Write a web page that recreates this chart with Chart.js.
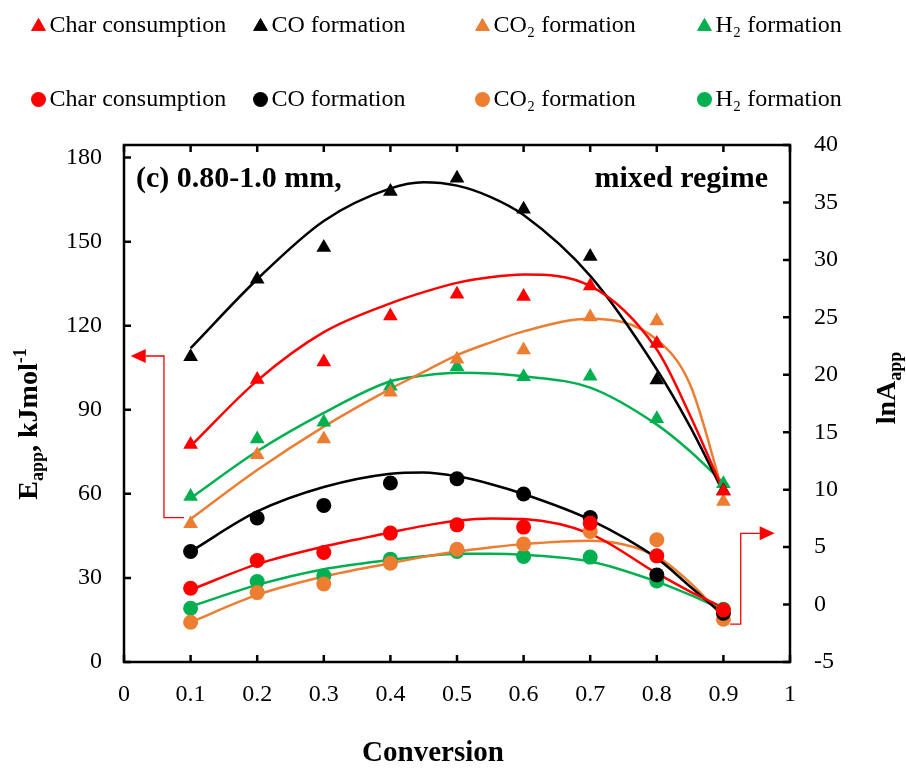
<!DOCTYPE html>
<html>
<head>
<meta charset="utf-8">
<script src="https://cdn.jsdelivr.net/npm/chart.js@4.4.0/dist/chart.umd.min.js"></script>
<style>
  html, body { margin: 0; padding: 0; background: #fff; }
  #wrap { width: 906px; height: 769px; }
</style>
</head>
<body>
<div id="wrap"><canvas id="chart" width="906" height="769"></canvas></div>
<script>
// conversion levels (x) of the measured points
const conversion = [0.1, 0.2, 0.3, 0.4, 0.5, 0.6, 0.7, 0.8, 0.9];

// apparent activation energy, kJ/mol (triangles, left axis)
const eaChar = [77.6, 100.8, 107.1, 123.5, 131.2, 130.4, 134.2, 113.7, 60.9];
const eaCO   = [108.9, 136.6, 147.9, 167.9, 172.6, 161.6, 144.7, 100.6, 61.1];
const eaCO2  = [49.3, 74.0, 79.6, 96.3, 108.0, 111.3, 123.1, 121.7, 57.3];
const eaH2   = [59.1, 79.6, 85.6, 98.4, 105.4, 101.8, 102.0, 86.8, 63.6];

// ln of pre-exponential factor (circles, right axis)
const lnChar = [1.42, 3.83, 4.53, 6.22, 6.94, 6.74, 7.09, 4.24, -0.47];
const lnCO   = [4.62, 7.53, 8.63, 10.58, 10.95, 9.62, 7.58, 2.58, -0.76];
const lnCO2  = [-1.54, 1.04, 1.80, 3.60, 4.82, 5.26, 6.36, 5.64, -1.28];
const lnH2   = [-0.32, 2.00, 2.50, 3.95, 4.62, 4.18, 4.13, 2.06, -0.41];

// fitted trend curves
const fitX        = [0.1, 0.2, 0.3, 0.4, 0.45, 0.5, 0.55, 0.6, 0.7, 0.8, 0.85, 0.9];
const fitEaChar   = [77.0, 100.4, 117.7, 128.0, 132.0, 135.3, 137.3, 138.3, 134.2, 111.5, 88.0, 61.0];
const fitEaCO     = [112.0, 136.6, 157.4, 169.0, 171.2, 170.0, 166.0, 159.5, 137.8, 104.4, 84.0, 60.5];
const fitEaCO2    = [51.0, 68.5, 84.0, 97.5, 103.5, 109.5, 114.0, 118.0, 122.5, 115.0, 99.0, 60.0];
const fitEaH2     = [58.5, 75.2, 88.9, 100.2, 102.2, 103.2, 103.0, 102.0, 97.9, 84.7, 75.2, 63.9];
const fitLnChar   = [1.28, 3.52, 5.05, 6.27, 6.85, 7.29, 7.50, 7.44, 6.16, 2.73, 1.13, -0.27];
const fitLnCO     = [4.62, 8.10, 10.23, 11.39, 11.50, 11.16, 10.50, 9.62, 7.38, 4.04, 1.57, -0.90];
const fitLnCO2    = [-1.54, 0.84, 2.44, 3.60, 4.15, 4.62, 4.97, 5.26, 5.55, 4.18, 1.91, -1.10];
const fitLnH2     = [-0.18, 1.71, 3.08, 3.89, 4.20, 4.42, 4.42, 4.33, 3.75, 2.00, 0.84, -0.47];

const seriesNames  = ['Char consumption', 'CO formation', 'CO\u2082 formation', 'H\u2082 formation'];
const seriesColors = ['#FF0000', '#000000', '#ED7D31', '#00B050'];

const eaTicks = [0, 30, 60, 90, 120, 150, 180];

// arrow annotations (data units: [x, value])
const leftArrowPath  = [[0.09, 51.5], [0.06, 51.5], [0.06, 109.2], [0.01, 109.2]];
const rightArrowPath = [[0.91, -1.7], [0.926, -1.7], [0.926, 6.2], [0.977, 6.2]];

const SERIF = "'Liberation Serif', 'Times New Roman', serif";
Chart.defaults.font.family = SERIF;
Chart.defaults.color = '#000';

function pts(xs, ys) {
    return xs.map((x, i) => ({ x: x, y: ys[i] }));
}

const eaSeries = [eaChar, eaCO, eaCO2, eaH2];
const lnSeries = [lnChar, lnCO, lnCO2, lnH2];
const fitEa = [fitEaChar, fitEaCO, fitEaCO2, fitEaH2];
const fitLn = [fitLnChar, fitLnCO, fitLnCO2, fitLnH2];

const datasets = [];
seriesNames.forEach((name, i) => {
    datasets.push({
        label: name + ' Ea',
        data: pts(conversion, eaSeries[i]),
        yAxisID: 'y',
        showLine: false,
        pointStyle: 'triangle',
        pointRadius: 8.5,
        pointBackgroundColor: seriesColors[i],
        pointBorderWidth: 0
    });
});
seriesNames.forEach((name, i) => {
    datasets.push({
        label: name + ' lnA',
        data: pts(conversion, lnSeries[i]),
        yAxisID: 'y1',
        showLine: false,
        pointStyle: 'circle',
        pointRadius: 7.5,
        pointBackgroundColor: seriesColors[i],
        pointBorderWidth: 0
    });
});
seriesNames.forEach((name, i) => {
    datasets.push({
        label: name + ' Ea fit',
        data: pts(fitX, fitEa[i]),
        yAxisID: 'y',
        showLine: true,
        cubicInterpolationMode: 'monotone',
        borderColor: seriesColors[i],
        borderWidth: 2.5,
        pointRadius: 0
    });
    datasets.push({
        label: name + ' lnA fit',
        data: pts(fitX, fitLn[i]),
        yAxisID: 'y1',
        showLine: true,
        cubicInterpolationMode: 'monotone',
        borderColor: seriesColors[i],
        borderWidth: 2.5,
        pointRadius: 0
    });
});

// text with sub/superscript pieces, centred on 0 along the baseline
function drawRich(ctx, parts) {
    let total = 0;
    parts.forEach(p => {
        ctx.font = p.font;
        p.w = ctx.measureText(p.t).width;
        total += p.w;
    });
    let x = -total / 2;
    ctx.textAlign = 'left';
    ctx.textBaseline = 'alphabetic';
    parts.forEach(p => {
        ctx.font = p.font;
        ctx.fillText(p.t, x, p.dy || 0);
        x += p.w;
    });
}

function drawArrow(ctx, path, xs, ys) {
    const p = path.map(q => [xs.getPixelForValue(q[0]), ys.getPixelForValue(q[1])]);
    const n = p.length;
    const tip = p[n - 1];
    const prev = p[n - 2];
    const dir = Math.sign(tip[0] - prev[0]);
    const headLen = 15, headHalf = 7;
    ctx.save();
    ctx.strokeStyle = '#FF0000';
    ctx.fillStyle = '#FF0000';
    ctx.lineWidth = 1.3;
    ctx.beginPath();
    ctx.moveTo(p[0][0], p[0][1]);
    for (let i = 1; i < n - 1; i++) ctx.lineTo(p[i][0], p[i][1]);
    ctx.lineTo(tip[0] - dir * headLen, tip[1]);
    ctx.stroke();
    ctx.beginPath();
    ctx.moveTo(tip[0], tip[1]);
    ctx.lineTo(tip[0] - dir * headLen, tip[1] - headHalf);
    ctx.lineTo(tip[0] - dir * headLen, tip[1] + headHalf);
    ctx.closePath();
    ctx.fill();
    ctx.restore();
}

const decorations = {
    id: 'decorations',
    afterDraw(chart) {
        const ctx = chart.ctx;
        const a = chart.chartArea;
        const xs = chart.scales.x, ys = chart.scales.y, ys1 = chart.scales.y1;
        ctx.save();

        // plot frame + inward ticks
        ctx.strokeStyle = '#000';
        ctx.lineWidth = 2.5;
        ctx.strokeRect(a.left, a.top, a.right - a.left, a.bottom - a.top);
        const tl = 7;
        ctx.beginPath();
        xs.ticks.forEach(t => {
            const px = xs.getPixelForValue(t.value);
            ctx.moveTo(px, a.bottom); ctx.lineTo(px, a.bottom - tl);
            ctx.moveTo(px, a.top); ctx.lineTo(px, a.top + tl);
        });
        ys.ticks.forEach(t => {
            const py = ys.getPixelForValue(t.value);
            ctx.moveTo(a.left, py); ctx.lineTo(a.left + tl, py);
        });
        ys1.ticks.forEach(t => {
            const py = ys1.getPixelForValue(t.value);
            ctx.moveTo(a.right, py); ctx.lineTo(a.right - tl, py);
        });
        ctx.stroke();

        // panel labels
        ctx.fillStyle = '#000';
        ctx.font = 'bold 30px ' + SERIF;
        ctx.textBaseline = 'alphabetic';
        ctx.textAlign = 'left';
        ctx.fillText('(c) 0.80-1.0 mm,', a.left + 12, 187);
        ctx.textAlign = 'right';
        ctx.fillText('mixed regime', a.right - 22, 187);

        // x title
        ctx.textAlign = 'center';
        ctx.font = 'bold 29px ' + SERIF;
        ctx.fillText('Conversion', 433, 761);

        // y titles
        const big = 'bold 28px ' + SERIF, small = 'bold 18px ' + SERIF;
        ctx.save();
        ctx.translate(37, 424);
        ctx.rotate(-Math.PI / 2);
        drawRich(ctx, [
            { t: 'E', font: big },
            { t: 'app', font: small, dy: 6 },
            { t: ', kJmol', font: big },
            { t: '-1', font: small, dy: -11 }
        ]);
        ctx.restore();
        ctx.save();
        ctx.translate(895, 388);
        ctx.rotate(-Math.PI / 2);
        drawRich(ctx, [
            { t: 'lnA', font: big },
            { t: 'app', font: small, dy: 6 }
        ]);
        ctx.restore();

        // arrows
        drawArrow(ctx, leftArrowPath, xs, ys);
        drawArrow(ctx, rightArrowPath, xs, ys1);

        // legend (two rows: triangles = Ea, circles = lnA)
        const colX = [38.5, 260.5, 482.5, 704.5];
        ctx.font = '24px ' + SERIF;
        ctx.textAlign = 'left';
        ctx.textBaseline = 'alphabetic';
        seriesNames.forEach((name, i) => {
            ctx.fillStyle = seriesColors[i];
            Chart.helpers.drawPoint(ctx, { pointStyle: 'triangle', radius: 8.5, borderWidth: 0 }, colX[i], 26.5);
            ctx.fill();
            ctx.beginPath();
            ctx.arc(colX[i], 99.5, 7.5, 0, Math.PI * 2);
            ctx.fill();
            ctx.fillStyle = '#000';
            ctx.fillText(name, colX[i] + 11, 32);
            ctx.fillText(name, colX[i] + 11, 106);
        });

        ctx.restore();
    }
};

new Chart(document.getElementById('chart'), {
    type: 'scatter',
    data: { datasets: datasets },
    options: {
        responsive: false,
        animation: false,
        devicePixelRatio: 1,
        layout: { padding: { top: 145, left: 0, right: 0, bottom: 0 } },
        plugins: {
            legend: { display: false },
            tooltip: { enabled: false }
        },
        scales: {
            x: {
                type: 'linear',
                position: 'bottom',
                min: 0,
                max: 1,
                ticks: {
                    stepSize: 0.1,
                    padding: 18,
                    font: { size: 24 },
                    color: '#000',
                    callback: v => String(Math.round(v * 10) / 10)
                },
                grid: { display: false, drawTicks: false },
                border: { display: false },
                afterFit: s => { s.height = 107; }
            },
            y: {
                position: 'left',
                min: 0,
                max: 184.5,
                afterBuildTicks: s => { s.ticks = eaTicks.map(v => ({ value: v })); },
                ticks: { padding: 22, font: { size: 24 }, color: '#000' },
                grid: { display: false, drawTicks: false },
                border: { display: false },
                afterFit: s => { s.width = 124; }
            },
            y1: {
                position: 'right',
                min: -5,
                max: 40,
                ticks: { stepSize: 5, padding: 24, font: { size: 24 }, color: '#000' },
                grid: { display: false, drawTicks: false },
                border: { display: false },
                afterFit: s => { s.width = 116; }
            }
        }
    },
    plugins: [decorations]
});
</script>
</body>
</html>
